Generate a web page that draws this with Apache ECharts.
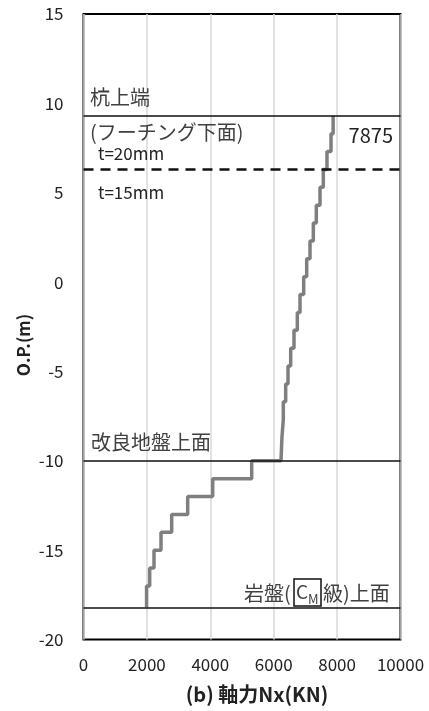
<!DOCTYPE html>
<html><head><meta charset="utf-8">
<script src="https://cdn.jsdelivr.net/npm/echarts@6/dist/echarts.min.js"></script>
<style>html,body{margin:0;padding:0;background:#fff;}#c{width:429px;height:711px;}</style>
</head><body><div id="c"></div>
<script>
// Depth boundaries (O.P., m) of each constant-force segment, top to bottom
const depthBreaks = [9.3, 8.3, 7.3, 6.3, 5.3, 4.3, 3.3, 2.3, 1.3, 0.3, -0.7, -1.7, -2.7, -3.7, -4.7, -5.7, -6.7, -7.7, -8.7, -10, -11, -12, -13, -14, -15, -16, -17, -18.2];
// Axial force Nx (kN) in each segment
const axialForce = [7875, 7808, 7681, 7565, 7461, 7344, 7250, 7145, 7041, 6946, 6830, 6745, 6640, 6536, 6451, 6378, 6303, 6260, 6230, 5306, 4076, 3287, 2782, 2445, 2224, 2088, 1990];
// Reference levels (O.P., m)
const pileTop = 9.3;
const thicknessChange = 6.3;
const improvedGround = -10;
const bedrock = -18.2;
const xTicks = [0, 2000, 4000, 6000, 8000, 10000];
const yTicks = [-20, -15, -10, -5, 0, 5, 10, 15];

const pts = [];
for (let i = 0; i < axialForce.length; i++) {
  pts.push([axialForce[i], depthBreaks[i]]);
  pts.push([axialForce[i], depthBreaks[i + 1]]);
}

const JP = "'Noto Sans CJK JP', 'Noto Sans', sans-serif";
const chart = echarts.init(document.getElementById('c'), null, {renderer: 'canvas'});
const lblColor = '#404040';
const Z = 100;
chart.setOption({
  animation: false,
  grid: {left: 83.5, right: 28.5, top: 14, bottom: 71.5, show: true, borderColor: '#000', borderWidth: 2, backgroundColor: 'transparent'},
  xAxis: {
    type: 'value', min: xTicks[0], max: xTicks[xTicks.length - 1], interval: 2000,
    axisLine: {show: false}, axisTick: {show: false},
    splitLine: {show: true, lineStyle: {color: '#d9d9d9', width: 1.5}},
    axisLabel: {margin: 17, fontSize: 17, color: '#222', fontFamily: JP, formatter: v => String(v)}
  },
  yAxis: {
    type: 'value', min: yTicks[0], max: yTicks[yTicks.length - 1], interval: 5,
    axisLine: {show: false}, axisTick: {show: false}, splitLine: {show: false},
    axisLabel: {margin: 20, fontSize: 17, color: '#222', fontFamily: JP, formatter: v => String(v)}
  },
  series: [
    {
      type: 'line', data: pts, showSymbol: false, symbol: 'none',
      lineStyle: {color: '#7f7f7f', width: 3.5}, z: 3,
      markLine: {
        silent: true, symbol: 'none', label: {show: false},
        data: [
          {yAxis: pileTop, lineStyle: {color: '#111', width: 1.6, type: 'solid'}},
          {yAxis: thicknessChange, lineStyle: {color: '#111', width: 2.5, type: [10, 7]}},
          {yAxis: improvedGround, lineStyle: {color: '#111', width: 1.6, type: 'solid'}},
          {yAxis: bedrock, lineStyle: {color: '#111', width: 1.6, type: 'solid'}}
        ]
      }
    }
  ],
  graphic: [
    {type: 'text', z: Z, left: 90, top: 87, style: {text: '杭上端', font: '20px ' + JP, fill: lblColor}},
    {type: 'text', z: Z, left: 90, top: 122, style: {text: '(フーチング下面)', font: '20px ' + JP, fill: lblColor}},
    {type: 'text', z: Z, left: 98, top: 145, style: {text: 't=20mm', font: '17px ' + JP, fill: '#222'}},
    {type: 'text', z: Z, left: 98, top: 184, style: {text: 't=15mm', font: '17px ' + JP, fill: '#222'}},
    {type: 'text', z: Z, right: 36, top: 125, style: {text: String(axialForce[0]), font: '20px ' + JP, fill: '#222'}},
    {type: 'text', z: Z, left: 91, top: 432, style: {text: '改良地盤上面', font: '20px ' + JP, fill: lblColor}},
    {type: 'text', z: Z, x: 244, y: 593, style: {text: '岩盤(', font: '20px ' + JP, fill: lblColor, align: 'left', verticalAlign: 'middle'}},
    {type: 'rect', z: Z, shape: {x: 294, y: 579, width: 27, height: 27}, style: {fill: 'none', stroke: '#111', lineWidth: 1.5}},
    {type: 'text', z: Z, x: 296, y: 592, style: {text: 'C', font: '19px ' + JP, fill: lblColor, align: 'left', verticalAlign: 'middle'}},
    {type: 'text', z: Z, x: 308, y: 599, style: {text: 'M', font: '13px ' + JP, fill: lblColor, align: 'left', verticalAlign: 'middle'}},
    {type: 'text', z: Z, x: 323, y: 593, style: {text: '級)上面', font: '20px ' + JP, fill: lblColor, align: 'left', verticalAlign: 'middle'}},
    {type: 'text', z: Z, x: 257, y: 694, style: {text: '(b) 軸力Nx(KN)', font: 'bold 20px ' + JP, fill: '#222', align: 'center', verticalAlign: 'middle'}},
    {type: 'text', z: Z, x: 24, y: 345, rotation: Math.PI / 2, style: {text: 'O.P.(m)', font: 'bold 17px ' + JP, fill: '#222', align: 'center', verticalAlign: 'middle'}}
  ]
});
</script></body></html>
